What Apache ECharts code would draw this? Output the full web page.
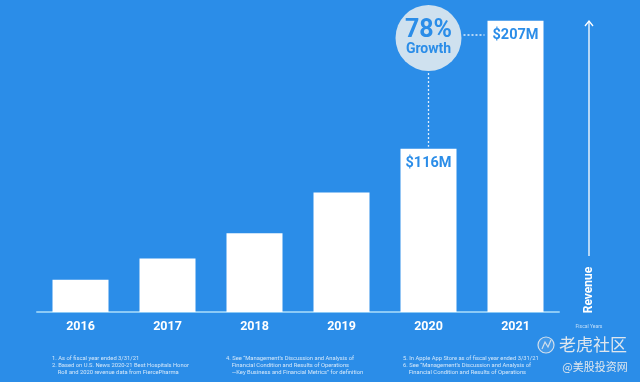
<!DOCTYPE html>
<html><head><meta charset="utf-8">
<script src="https://cdn.jsdelivr.net/npm/echarts@6/dist/echarts.min.js"></script>
<style>html,body{margin:0;padding:0;background:#2b8de8;}#c{width:640px;height:382px;}</style>
</head><body><div id="c"></div>
<script>
const years = ['2016','2017','2018','2019','2020','2021'];
const revenue = [23, 38, 56, 85, 116, 207];
const revenueLabels = ['', '', '', '', '$116M', '$207M'];
const growthText = ['78%', 'Growth'];
const footnotes1 = ['1. As of fiscal year ended 3/31/21', '2. Based on U.S. News 2020-21 Best Hospitals Honor', '    Roll and 2020 revenue data from FiercePharma'];
const footnotes2 = ['4. See \u201cManagement\u2019s Discussion and Analysis of', '    Financial Condition and Results of Operations', '    \u2014Key Business and Financial Metrics\u201d for definition'];
const footnotes3 = ['5. In Apple App Store as of fiscal year ended 3/31/21', '6. See \u201cManagement\u2019s Discussion and Analysis of', '    Financial Condition and Results of Operations'];

const BLUE = '#2b8de8';
const FONT = 'Roboto, "Noto Sans", sans-serif';
const chart = echarts.init(document.getElementById('c'));
chart.setOption({
  backgroundColor: BLUE,
  animation: false,
  grid: {left: 37, right: 81, top: 20.7, bottom: 70},
  xAxis: {
    type: 'category', data: years,
    axisLine: {lineStyle: {color: '#8ccaf6', width: 2}},
    axisTick: {show: false},
    axisLabel: {color: '#fff', fontSize: 12.5, fontWeight: 'bold', fontFamily: FONT, margin: 8}
  },
  yAxis: {type: 'value', min: 0, max: 207, show: false, splitLine: {show: false}},
  series: [{
    type: 'bar', data: revenue, barWidth: 56,
    itemStyle: {color: '#ffffff'},
    label: {
      show: true, position: 'insideTop', distance: 7,
      formatter: p => revenueLabels[p.dataIndex],
      color: BLUE, fontSize: 14.5, fontWeight: 'bold', fontFamily: FONT
    }
  }]
});

function fn(lines, x, y) {
  return lines.map((t, i) => ({
    type: 'text', x: x, y: y + i * 6.9,
    style: {text: t, fill: 'rgba(255,255,255,0.8)', fontSize: 5.8, fontFamily: FONT, textVerticalAlign: 'middle'}
  }));
}

const p2020 = chart.convertToPixel({xAxisIndex: 0, yAxisIndex: 0}, [4, revenue[4]]);
const p2021 = chart.convertToPixel({xAxisIndex: 0, yAxisIndex: 0}, [5, revenue[5]]);
const cx = p2020[0], cy = 38, r = 33;
const barHalf = 28;
const dash = {stroke: 'rgba(255,255,255,0.85)', lineWidth: 1.3, lineDash: [2, 2]};

chart.setOption({
  graphic: [
    {type: 'line', shape: {x1: cx, y1: cy + r + 2, x2: cx, y2: p2020[1] - 2}, style: dash},
    {type: 'line', shape: {x1: cx + r + 2, y1: 35, x2: p2021[0] - barHalf - 3, y2: 35}, style: dash},
    {type: 'circle', shape: {cx: cx, cy: cy, r: r}, style: {fill: '#cfe1ef'}},
    {type: 'text', x: cx, y: 31, style: {text: growthText[0], fill: BLUE, fontSize: 25, fontWeight: 'bold', fontFamily: FONT, textAlign: 'center', textVerticalAlign: 'middle'}},
    {type: 'text', x: cx, y: 49, style: {text: growthText[1], fill: BLUE, fontSize: 14, fontWeight: 'bold', fontFamily: FONT, textAlign: 'center', textVerticalAlign: 'middle'}},
    {type: 'line', shape: {x1: 589, y1: 256, x2: 589, y2: 21}, style: {stroke: '#fff', lineWidth: 1.3}},
    {type: 'polyline', shape: {points: [[585, 26], [589, 21], [593, 26]]}, style: {stroke: '#fff', lineWidth: 1.3, fill: null}},
    {type: 'text', x: 589, y: 290, rotation: Math.PI / 2, style: {text: 'Revenue', fill: '#fff', fontSize: 12, fontWeight: 'bold', fontFamily: FONT, textAlign: 'center', textVerticalAlign: 'middle'}},
    {type: 'text', x: 589, y: 327, style: {text: 'Fiscal Years', fill: 'rgba(255,255,255,0.7)', fontSize: 5, fontFamily: FONT, textAlign: 'center', textVerticalAlign: 'middle'}},
    ...fn(footnotes1, 52, 359),
    ...fn(footnotes2, 226, 359),
    ...fn(footnotes3, 403, 359),
    {type: 'circle', shape: {cx: 546, cy: 345, r: 8}, style: {fill: 'rgba(255,255,255,0.12)', stroke: 'rgba(235,235,235,0.85)', lineWidth: 1.2}},
    {type: 'polyline', shape: {points: [[542, 349], [545, 342], [548, 347], [551, 340]]}, style: {stroke: 'rgba(235,235,235,0.85)', lineWidth: 1.2, fill: null}},
    {type: 'text', x: 593, y: 345, style: {text: '老虎社区', fill: 'rgba(238,238,238,0.92)', fontSize: 17, fontFamily: '"Noto Sans CJK SC"', textAlign: 'center', textVerticalAlign: 'middle'}},
    {type: 'text', x: 595, y: 367, style: {text: '@美股投资网', fill: 'rgba(238,238,238,0.92)', fontSize: 11, fontFamily: '"Noto Sans CJK SC"', textAlign: 'center', textVerticalAlign: 'middle'}}
  ]
});
</script></body></html>
